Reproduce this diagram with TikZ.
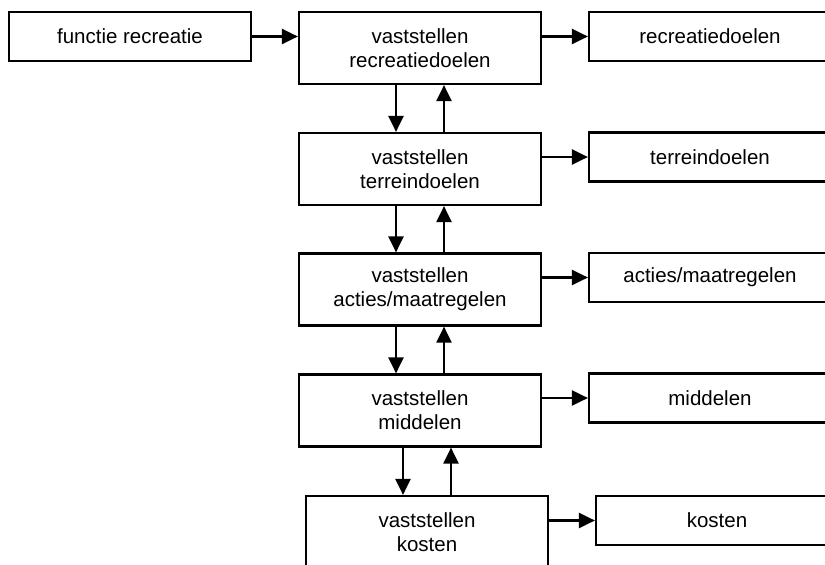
\documentclass[tikz,border=0pt]{standalone}
\usepackage{fontspec}
\setmainfont{Liberation Sans}
\usetikzlibrary{arrows.meta,calc}
\begin{document}
\begin{tikzpicture}[x=1pt,y=-1pt,
  box/.style={draw=black,line width=2.2pt,rectangle,minimum width=242pt,inner sep=0pt,
    align=center,font=\fontsize{20.5}{24}\selectfont},
  bigbox/.style={box,minimum height=72pt},
  smallbox/.style={box,minimum height=49pt},
  arr/.style={line width=2.2pt,-{Triangle[length=16pt,width=15pt]}}]
\useasboundingbox (0,0) rectangle (825,565);
\clip (0,0) rectangle (825,565);
% left input
\node[smallbox] (f) at (130,36.5) {functie recreatie};
% centre column
\node[bigbox] (c1) at (420,48) {vaststellen\\recreatiedoelen};
\node[bigbox] (c2) at (420,169) {vaststellen\\terreindoelen};
\node[bigbox] (c3) at (420,289.5) {vaststellen\\acties/maatregelen};
\node[bigbox] (c4) at (420,410.5) {vaststellen\\middelen};
\node[bigbox] (c5) at (427,532) {vaststellen\\kosten};
% right column
\node[smallbox] (r1) at (710,36.5) {recreatiedoelen};
\node[smallbox] (r2) at (710,157) {terreindoelen};
\node[smallbox] (r3) at (710,277.5) {acties/maatregelen};
\node[smallbox] (r4) at (710,398) {middelen};
\node[smallbox] (r5) at (717,520.5) {kosten};
% horizontal arrows
\draw[arr] (f.east) -- (f.east -| c1.west);
\draw[arr] (r1.west -| c1.east) -- (r1.west);
\draw[arr] (r2.west -| c2.east) -- (r2.west);
\draw[arr] (r3.west -| c3.east) -- (r3.west);
\draw[arr] (r4.west -| c4.east) -- (r4.west);
\draw[arr] (r5.west -| c5.east) -- (r5.west);
% vertical arrows
\foreach \a/\b in {c1/c2,c2/c3,c3/c4,c4/c5}{
  \coordinate (dn) at ($(\b.north)+(-24pt,0pt)$);
  \coordinate (up) at ($(\b.north)+(24pt,0pt)$);
  \draw[arr] (dn |- \a.south) -- (dn);
  \draw[arr] (up) -- (up |- \a.south);
}
\end{tikzpicture}
\end{document}
